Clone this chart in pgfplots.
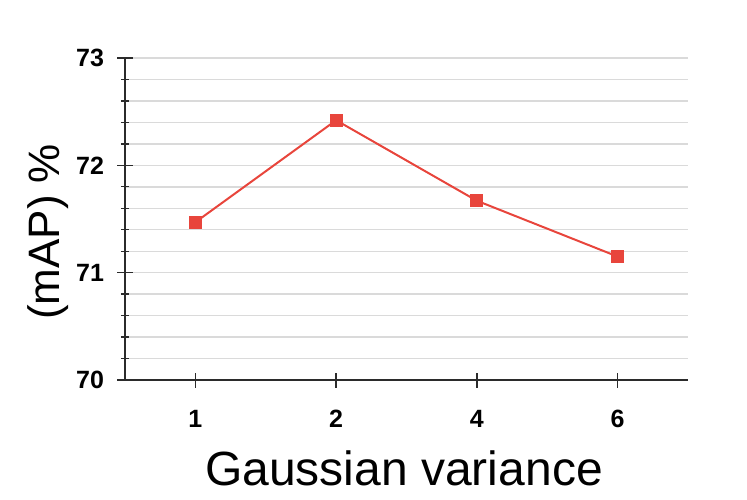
\documentclass[border=0pt]{standalone}
\usepackage{pgfplots}
\pgfplotsset{compat=1.18}
\usepackage{fontspec}
\setmainfont{Liberation Sans}
\definecolor{linered}{HTML}{E8453C}
\definecolor{gridgray}{HTML}{DADADA}
\definecolor{axisdark}{HTML}{2B2B2B}
\begin{document}
\begin{tikzpicture}[x=1pt,y=1pt]
\useasboundingbox (0,0) rectangle (747,499);
\begin{axis}[
  at={(125pt,119pt)}, anchor=south west,
  scale only axis, width=563pt, height=322pt,
  xmin=-0.5, xmax=3.5, ymin=70, ymax=73,
  xtick={0,1,2,3}, xticklabels={1,2,4,6},
  ytick={70,71,72,73},
  minor ytick={70.2,70.4,70.6,70.8,71.2,71.4,71.6,71.8,72.2,72.4,72.6,72.8},
  ymajorgrids, yminorgrids,
  major grid style={gridgray, line width=1.4pt},
  minor grid style={gridgray, line width=1.4pt},
  axis lines*=left,
  axis line style={axisdark, line width=1.8pt},
  tick align=center,
  major tick length=15pt, minor tick length=8pt,
  tick style={axisdark, line width=1.3pt},
  /pgf/number format/assume math mode=true,
  ticklabel style={font=\fontsize{25}{25}\selectfont\bfseries},
  yticklabel style={xshift=-10pt},
  xticklabel style={yshift=-19pt},
  xlabel={Gaussian variance},
  ylabel={(mAP) \%},
  xlabel style={font=\fontsize{48}{48}\selectfont, at={(axis description cs:0.4956,-0.273)}, anchor=center},
  ylabel style={font=\fontsize{44}{44}\selectfont, at={(axis description cs:-0.137,0.46)}, anchor=center, rotate=0},
  clip=false,
]
\addplot[color=linered, line width=2pt, mark=square*, mark size=5.5pt, mark options={fill=linered, draw=linered}]
  coordinates {(0,71.47) (1,72.42) (2,71.67) (3,71.15)};
\end{axis}
\end{tikzpicture}
\end{document}
